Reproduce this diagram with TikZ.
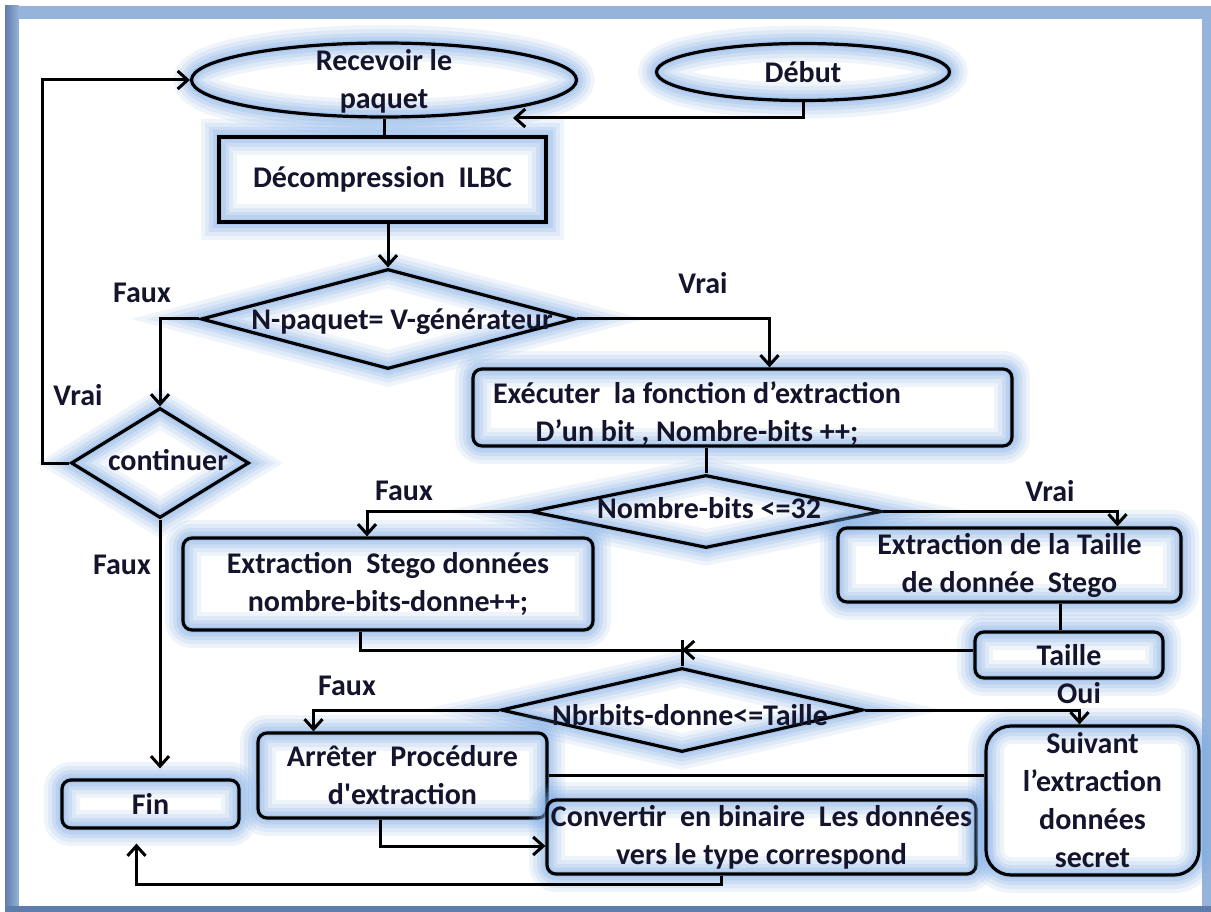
\documentclass[tikz,border=0pt]{standalone}
\usepackage{fontspec}
\setmainfont{Carlito}
\usepackage{tikz}
\usetikzlibrary{shapes.geometric, arrows.meta}

\definecolor{ink}{RGB}{20,20,45}
\definecolor{glowc}{RGB}{125,172,230}
\definecolor{framec}{RGB}{150,180,218}
\definecolor{framedk}{RGB}{95,125,172}

\newcommand{\flowfont}{\bfseries\fontsize{30}{38}\selectfont}

\begin{document}
\begin{tikzpicture}[x=1pt, y=-1pt,
    glow/.style={preaction={draw=glowc, line width=36pt, opacity=.12},
                 preaction={draw=glowc, line width=28pt, opacity=.15},
                 preaction={draw=glowc, line width=20pt, opacity=.18},
                 preaction={draw=glowc, line width=13pt, opacity=.22},
                 preaction={draw=glowc, line width=6pt, opacity=.28}},
    box/.style={draw, line width=3.2pt, glow, inner sep=0pt, align=center, font=\flowfont, text=ink},
    rbox/.style={box, rounded corners=9pt},
    term/.style={box, ellipse},
    test/.style={box, diamond},
    dtext/.style={align=center, font=\flowfont, text=ink},
    line/.style={draw, line width=3pt},
    arr/.style={line, -{Straight Barb[length=10pt,width=18pt]}}]
        \useasboundingbox (0,0) rectangle (1211,912);

        % cadre
        \fill[framec] (5,6) rectangle (1211,912);
        \shade[left color=framedk, right color=framec] (5,6) rectangle (19,912);
        \fill[framedk] (5,906) rectangle (1211,912);
        \fill[white] (19,19) rectangle (1202,906);

        % formes
        \node[term, minimum width=385pt, minimum height=74pt] (recv) at (384,80) {};
        \node[term, minimum width=293pt, minimum height=57pt] (debut) at (803,72) {Début};
        \node[box, minimum width=327pt, minimum height=85pt] (decomp) at (382.5,179.5) {Décompression~ ILBC};
        \node[test, minimum width=374pt, minimum height=100pt] (npaq) at (388,319) {};
        \node[test, minimum width=178pt, minimum height=110pt] (cont) at (160,463) {};
        \node[rbox, minimum width=539pt, minimum height=77pt] (exec) at (742.5,407.5) {};
        \node[test, minimum width=351pt, minimum height=73pt] (nbits) at (706,511.5) {};
        \node[rbox, minimum width=410pt, minimum height=92pt] (stego) at (388,584) {Extraction~ Stego données\\nombre-bits-donne++;};
        \node[rbox, minimum width=343pt, minimum height=74pt] (taille) at (1009.5,565) {Extraction de la Taille\\de donnée~ Stego};
        \node[rbox, minimum width=188pt, minimum height=46pt] (tbox) at (1069,655) {Taille};
        \node[test, minimum width=362pt, minimum height=84pt] (nbr) at (682,710) {};
        \node[rbox, minimum width=289pt, minimum height=85pt] (arret) at (402.5,775.5) {Arrêter~ Procédure\\d\textquotesingle extraction};
        \node[rbox, minimum width=429pt, minimum height=74pt] (conv) at (761.5,837) {Convertir~ en binaire~ Les données\\vers le type correspond};
        \node[rbox, rounded corners=25pt, minimum width=213pt, minimum height=149pt] (suiv) at (1092.5,800.5) {Suivant\\l’extraction\\données\\secret};
        \node[rbox, minimum width=177pt, minimum height=48pt] (fin) at (150.5,804) {Fin};

        % textes des formes
        \node[dtext] (recv-t) at (384,81) {Recevoir le\\paquet};
        \node[dtext] (npaq-t) at (402,322) {N-paquet= V-générateur};
        \node[dtext] (cont-t) at (168,460) {continuer};
        \node[dtext] (exec-t) at (697,414) {Exécuter~ la fonction d’extraction\\D’un bit , Nombre-bits ++;};
        \node[dtext] (nbits-t) at (709,508) {Nombre-bits <=32};
        \node[dtext] (nbr-t) at (690,715) {Nbrbits-donne<=Taille};

        % etiquettes
        \node[dtext] (f1) at (142,293) {Faux};
        \node[dtext] (v1) at (703,283) {Vrai};
        \node[dtext] (v2) at (78,395) {Vrai};
        \node[dtext] (f2) at (122,565) {Faux};
        \node[dtext] (f3) at (404,491) {Faux};
        \node[dtext] (v3) at (1050,491) {Vrai};
        \node[dtext] (f4) at (347,686) {Faux};
        \node[dtext] (oui) at (1079,693) {Oui};

        % liaisons
        \coordinate (rin) at (513,118);
        \coordinate (jn) at (682,650);
        \draw[arr] (debut.south) |- (rin);
        \draw[line] (recv.south) -- (recv.south |- decomp.north);
        \draw[arr] (decomp.south -| npaq.north) -- (npaq.north);
        \draw[arr] (npaq.west) -| (cont.north);
        \draw[arr] (npaq.east) -| ([xshift=27pt]exec.north);
        \draw[arr] (cont.west) -- ++(-27,0) |- (recv.west);
        \draw[arr, shorten >=10pt] (cont.south) -- (cont.south |- fin.north);
        \draw[line] (nbits.north |- exec.south) -- (nbits.north);
        \draw[arr] (nbits.west) -| ([xshift=-21pt]stego.north);
        \draw[arr] (nbits.east) -| ([xshift=108pt]taille.north);
        \draw[line] ([xshift=-9pt]tbox.north) -- ([xshift=-9pt]tbox.north |- taille.south);
        \draw[line] ([xshift=-28pt]stego.south) |- (jn);
        \draw[arr] (jn -| tbox.west) -- (jn);
        \draw[line] ([yshift=10pt]jn) -- (nbr.north);
        \draw[arr] (nbr.west) -| ([xshift=-89pt]arret.north);
        \draw[arr] (nbr.east) -| ([xshift=-13pt]suiv.north);
        \draw[line] (arret.east) -- (arret.east -| suiv.west);
        \draw[arr] ([xshift=-22pt]arret.south) |- ([yshift=-9pt]conv.west);
        \draw[arr, shorten >=14pt] ([xshift=-40pt]conv.south) -- ++(0,9) -| ([xshift=-14pt]fin.south);
\end{tikzpicture}
\end{document}
